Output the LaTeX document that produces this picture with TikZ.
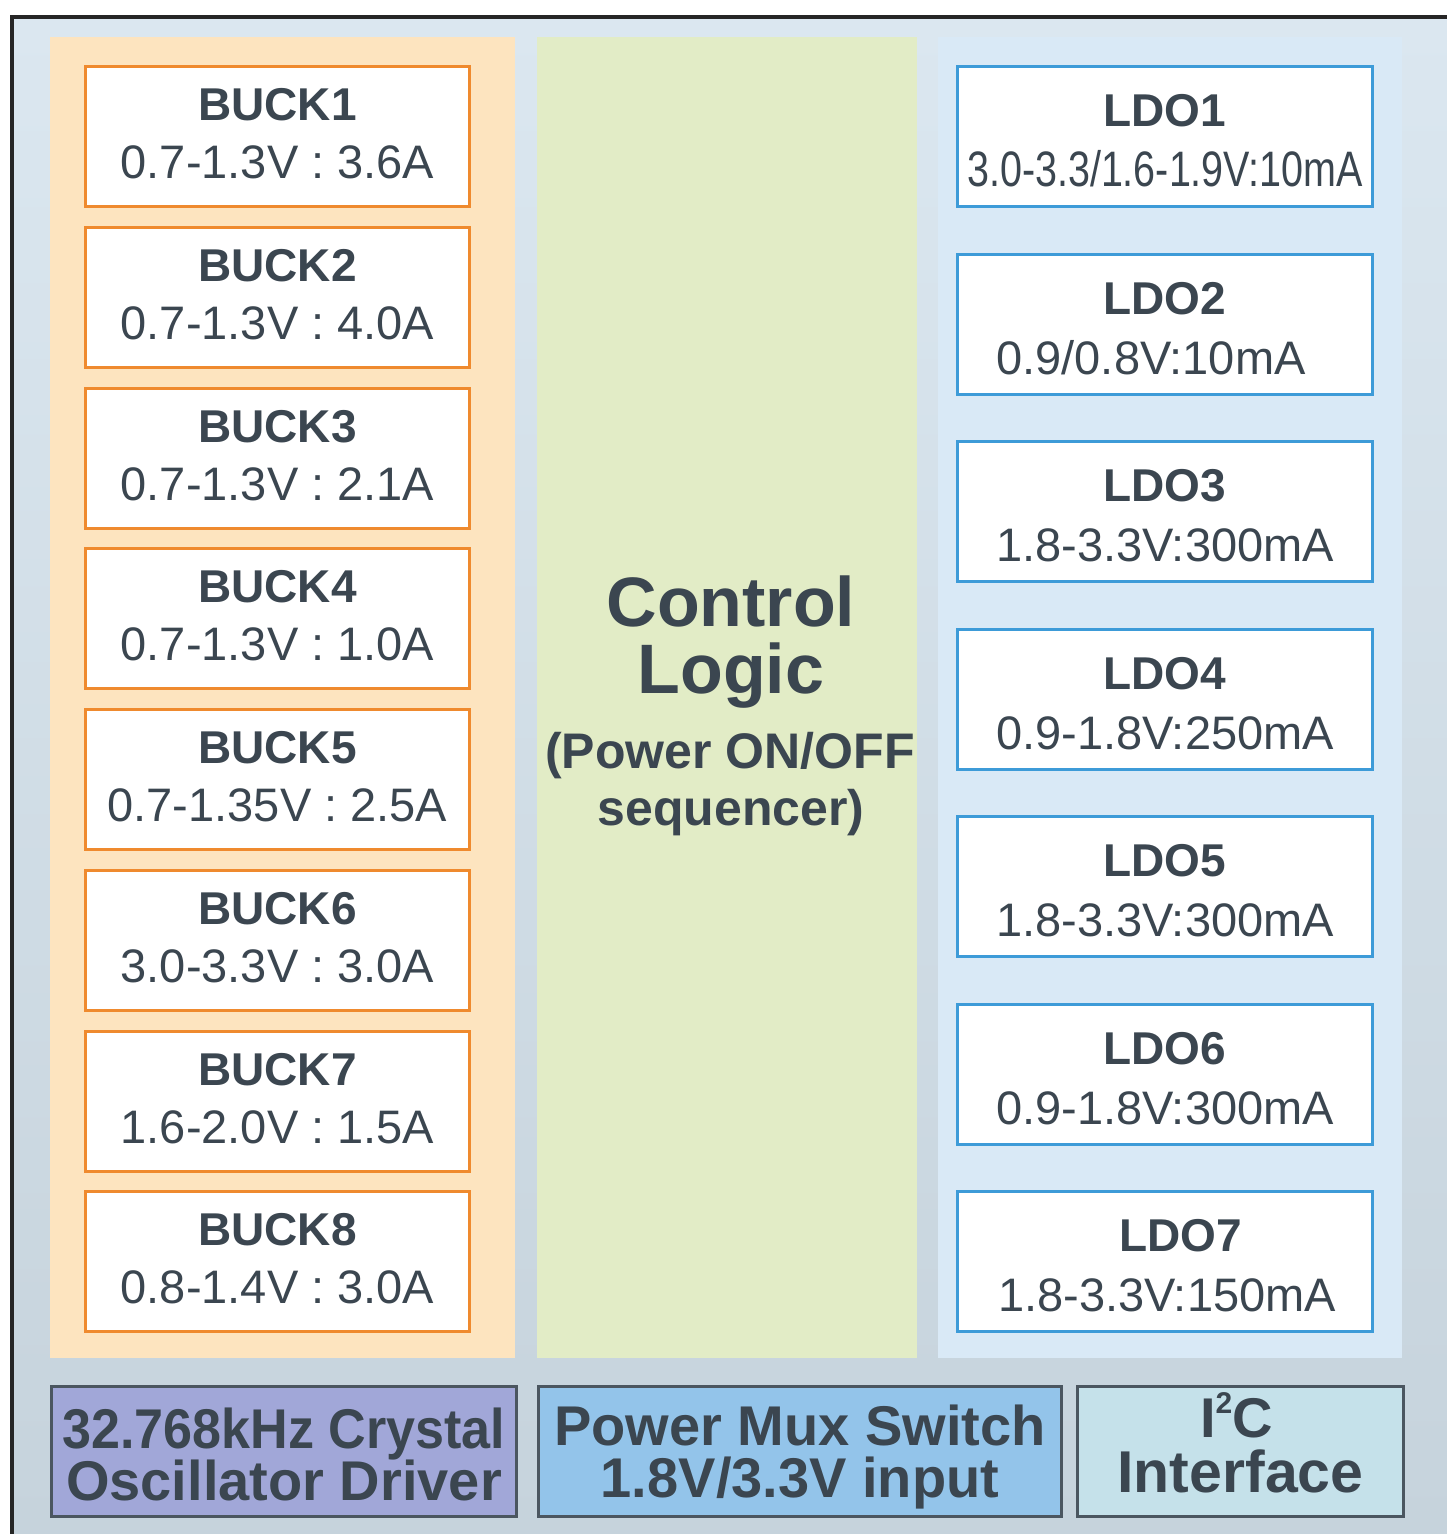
\documentclass[tikz,border=0pt]{standalone}
\usepackage{fontspec}
\setmainfont{Liberation Sans}
\usepackage{graphicx}
\definecolor{framec}{HTML}{262626}
\definecolor{bgtop}{HTML}{DBE7F0}
\definecolor{bgbot}{HTML}{C6D3DC}
\definecolor{orpanel}{HTML}{FDE4BF}
\definecolor{grpanel}{HTML}{E2ECC6}
\definecolor{blpanel}{HTML}{D9E9F6}
\definecolor{buckc}{HTML}{EF8A2E}
\definecolor{ldoc}{HTML}{3D9BD8}
\definecolor{xtalc}{HTML}{A1A7D8}
\definecolor{muxc}{HTML}{93C4EA}
\definecolor{i2cc}{HTML}{C5E1EA}
\definecolor{botline}{HTML}{4B5660}
\definecolor{txt}{HTML}{3B4650}
\begin{document}
\begin{tikzpicture}[x=1pt,y=-1pt,
  panel/.style={draw=none,inner sep=0pt,anchor=north west,minimum height=1321pt},
  buckbox/.style={draw=buckc,line width=3pt,fill=white,minimum width=384pt,minimum height=140pt,inner sep=0pt,anchor=north west},
  ldobox/.style={draw=ldoc,line width=3pt,fill=white,minimum width=415pt,minimum height=140pt,inner sep=0pt,anchor=north west},
  botbox/.style={draw=botline,line width=3pt,minimum height=130pt,inner sep=0pt,anchor=north west},
  ttl/.style={anchor=base,text=txt,inner sep=0pt,font=\fontsize{46}{46}\selectfont\bfseries},
  val/.style={anchor=base,text=txt,inner sep=0pt,font=\fontsize{47}{47}\selectfont},
  ctl/.style={anchor=base,text=txt,inner sep=0pt,font=\fontsize{70}{70}\selectfont\bfseries},
  ctls/.style={anchor=base,text=txt,inner sep=0pt,font=\fontsize{50}{50}\selectfont\bfseries},
  btxt/.style={anchor=base,text=txt,inner sep=0pt,font=\fontsize{56}{56}\selectfont\bfseries}
]
\useasboundingbox (0,0) rectangle (1447,1534);
\fill[white] (0,0) rectangle (1447,1534);
% background and frame
\shade[top color=bgtop,bottom color=bgbot] (12,17) rectangle (1447,1534);
\draw[framec,line width=3.5pt] (12,1534) -- (12,17) -- (1447,17);
% panels
\node[panel,fill=orpanel,minimum width=465pt] (bpanel) at (50,37) {};
\node[panel,fill=grpanel,minimum width=380pt] (cpanel) at (537,37) {};
\node[panel,fill=blpanel,minimum width=464pt] (lpanel) at (938,37) {};
% BUCK converters
\foreach \i/\y/\v in {1/65/{0.7-1.3V : 3.6A},2/226/{0.7-1.3V : 4.0A},3/387/{0.7-1.3V : 2.1A},4/547/{0.7-1.3V : 1.0A},5/708/{0.7-1.35V : 2.5A},6/869/{3.0-3.3V : 3.0A},7/1030/{1.6-2.0V : 1.5A},8/1190/{0.8-1.4V : 3.0A}}{
  \node[buckbox] (b\i) at (84,\y) {};
  \node[ttl] (bt\i) at ([yshift=-55pt]b\i.north) {BUCK\i};
  \node[val] (bv\i) at ([yshift=-113pt]b\i.north) {\v};
}
% LDOs
\foreach \i/\y/\tx/\vx/\v in {1/65/0/0/{\scalebox{0.84}[1.06]{3.0-3.3/1.6-1.9V:10mA}},2/253/0/-14/{0.9/0.8V:10mA},3/440/0/0/{1.8-3.3V:300mA},4/628/0/0/{0.9-1.8V:250mA},5/815/0/0/{1.8-3.3V:300mA},6/1003/0/0/{0.9-1.8V:300mA},7/1190/16/2/{1.8-3.3V:150mA}}{
  \node[ldobox] (l\i) at (956,\y) {};
  \node[ttl] (lt\i) at ([xshift=\tx pt,yshift=-61pt]l\i.north) {LDO\i};
  \node[val] (lv\i) at ([xshift=\vx pt,yshift=-121pt]l\i.north) {\v};
}
% control logic text
\node[ctl] (cl1) at (731,626) {Control};
\node[ctl] (cl2) at (731,693) {Logic};
\node[ctls] (cl3) at (730,768) {(Power ON/OFF};
\node[ctls] (cl4) at (731,825) {sequencer)};
% bottom blocks
\node[botbox,fill=xtalc,minimum width=465pt] (xtal) at (50,1385) {};
\node[btxt] (xtal1) at ([yshift=-63pt]xtal.north) {\scalebox{0.93}[1]{32.768kHz Crystal}};
\node[btxt] (xtal2) at ([yshift=-115pt]xtal.north) {Oscillator Driver};
\node[botbox,fill=muxc,minimum width=523pt] (mux) at (537,1385) {};
\node[btxt] (mux1) at ([yshift=-60pt]mux.north) {Power Mux Switch};
\node[btxt] (mux2) at ([yshift=-112pt]mux.north) {1.8V/3.3V input};
\node[botbox,fill=i2cc,minimum width=326pt] (i2c) at (1076,1385) {};
\node[btxt] (i2c1) at ([xshift=-4pt,yshift=-52pt]i2c.north) {I\raisebox{0.42em}{\fontsize{30}{30}\selectfont 2}C};
\node[btxt,font=\fontsize{59}{59}\selectfont\bfseries] (i2c2) at ([yshift=-107pt]i2c.north) {Interface};
\end{tikzpicture}
\end{document}
